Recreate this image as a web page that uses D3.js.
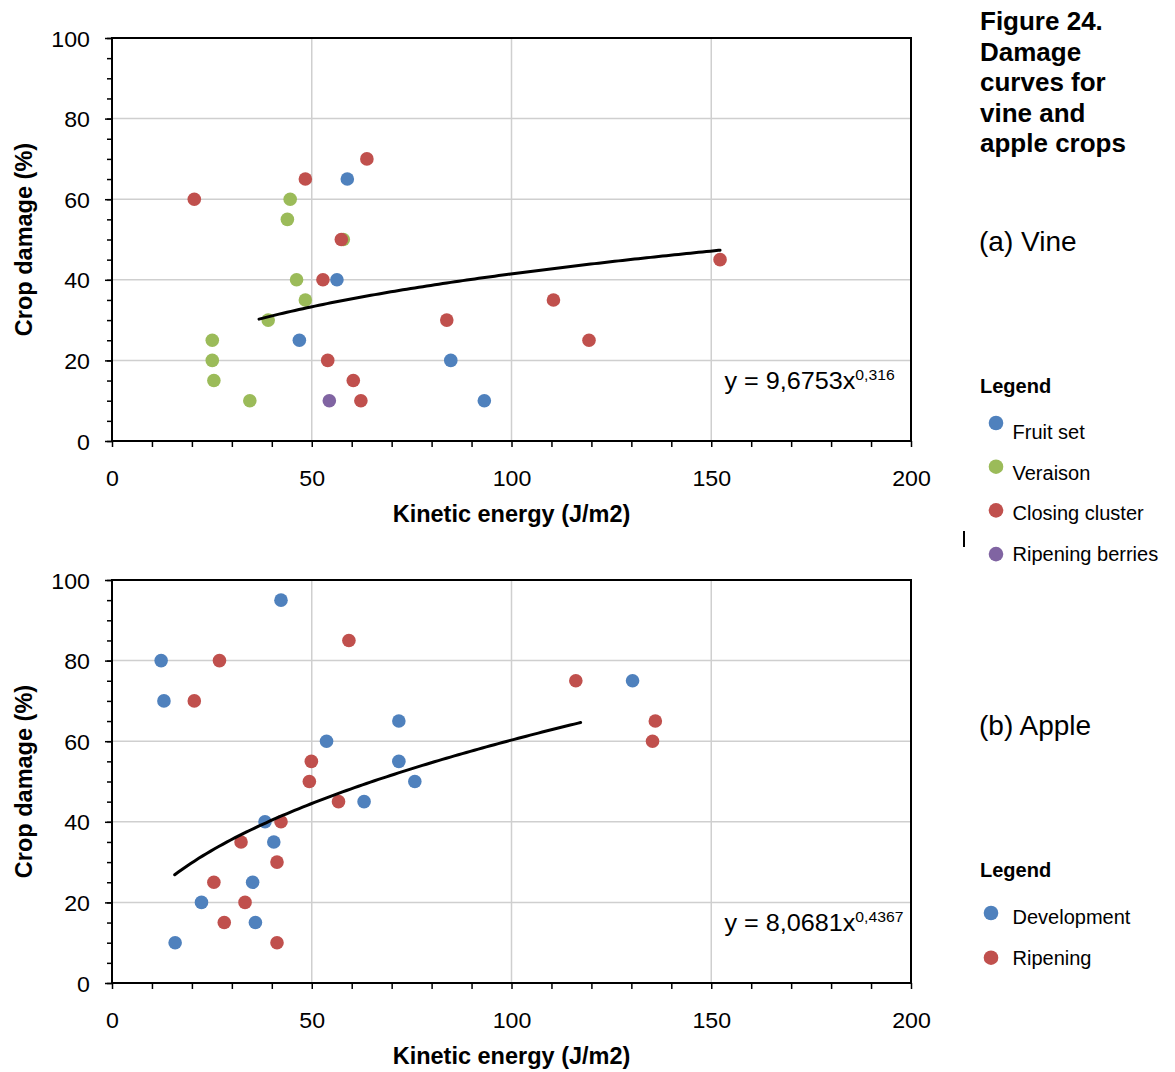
<!DOCTYPE html>
<html>
<head>
<meta charset="utf-8">
<script src="https://cdn.jsdelivr.net/npm/d3@7"></script>
<style>
  body { margin: 0; background: #fff; }
  text { font-family: "Liberation Sans", Arial, sans-serif; fill: #000; }
</style>
</head>
<body>
<div id="chart"></div>
<script>
// Datos: [energia cinetica J/m2, dano %]
const vineFruitSet = [[58.9, 65], [56.3, 40], [46.9, 25], [84.8, 20], [93.2, 10]];
const vineVeraison = [[44.6, 60], [43.9, 55], [57.9, 50], [46.2, 40], [48.4, 35], [39.1, 30],
                      [25.1, 25], [25.1, 20], [25.5, 15], [34.5, 10]];
const vineClosing = [[20.6, 60], [48.4, 65], [63.8, 70], [57.4, 50], [52.8, 40], [83.8, 30],
                     [110.5, 35], [119.4, 25], [152.2, 45], [54.0, 20], [60.4, 15], [62.3, 10]];
const vineRipening = [[54.4, 10]];

const appleDevelopment = [[42.3, 95], [12.3, 80], [13.0, 70], [71.8, 65], [53.7, 60], [71.8, 55],
                          [75.8, 50], [63.1, 45], [38.3, 40], [40.5, 35], [35.2, 25], [22.4, 20],
                          [35.9, 15], [15.8, 10], [130.3, 75]];
const appleRipening = [[59.3, 85], [26.9, 80], [20.6, 70], [116.1, 75], [136.0, 65], [135.3, 60],
                       [49.9, 55], [49.4, 50], [56.7, 45], [42.3, 40], [32.3, 35], [41.3, 30],
                       [25.5, 25], [33.3, 20], [28.1, 15], [41.3, 10]];

// Curvas de ajuste y = a * x^b (ecuaciones del grafico)
const vineFit = { a: 9.6753, b: 0.316, from: 36.8, to: 152.2, label: "9,6753", exp: "0,316" };
const appleFit = { a: 8.0681, b: 0.4367, from: 15.7, to: 117.3, label: "8,0681", exp: "0,4367" };

const xTicks = [0, 50, 100, 150, 200];
const yTicks = [0, 20, 40, 60, 80, 100];
const titleLines = ["Figure 24.", "Damage", "curves for", "vine and", "apple crops"];

const vineLegend = ["Fruit set", "Veraison", "Closing cluster", "Ripening berries"];
const appleLegend = ["Development", "Ripening"];

const colBlue = "#4f81bd", colGreen = "#9bbb59", colRed = "#c0504d", colPurple = "#8064a2";

const svg = d3.select("#chart").append("svg")
    .attr("width", 1175)
    .attr("height", 1072);

function drawPanel(top, series, fit) {
    const left = 112, right = 911, bottom = top + 403;
    const x = d3.scaleLinear().domain([0, 200]).range([left, right]);
    const y = d3.scaleLinear().domain([0, 100]).range([bottom, top]);
    const g = svg.append("g");

    // lineas de la cuadricula
    g.append("g").selectAll("line.h")
        .data(yTicks.slice(1, -1))
        .join("line")
        .attr("x1", left).attr("x2", right)
        .attr("y1", d => y(d)).attr("y2", d => y(d))
        .attr("stroke", "#cfcfcf").attr("stroke-width", 1.5);
    g.append("g").selectAll("line.v")
        .data(xTicks.slice(1, -1))
        .join("line")
        .attr("x1", d => x(d)).attr("x2", d => x(d))
        .attr("y1", top).attr("y2", bottom)
        .attr("stroke", "#cfcfcf").attr("stroke-width", 1.5);

    // ejes: ticks menores y mayores
    const yMinor = g.append("g").attr("transform", `translate(${left},0)`)
        .call(d3.axisLeft(y).tickValues(d3.range(0, 101, 5)).tickSize(5).tickSizeOuter(0).tickFormat(""));
    const yMajor = g.append("g").attr("transform", `translate(${left},0)`)
        .call(d3.axisLeft(y).tickValues(yTicks).tickSize(7).tickSizeOuter(0).tickPadding(0));
    const xAx = g.append("g").attr("transform", `translate(0,${bottom})`)
        .call(d3.axisBottom(x).tickValues(d3.range(0, 201, 10)).tickSize(6).tickSizeOuter(0)
            .tickFormat(d => xTicks.includes(d) ? d : ""));
    [yMinor, yMajor, xAx].forEach(a => {
        a.select(".domain").remove();
        a.selectAll(".tick line").attr("stroke", "#000").attr("stroke-width", 1.5);
    });
    yMajor.selectAll(".tick text")
        .attr("x", null).attr("dy", null)
        .attr("transform", "translate(-22,8) scale(1.03,1)")
        .attr("font-size", "22.5px").attr("font-family", null).attr("fill", "#000");
    xAx.selectAll(".tick text")
        .attr("y", null).attr("dy", null)
        .attr("transform", "translate(0,45) scale(1.03,1)")
        .attr("font-size", "22.5px").attr("font-family", null).attr("fill", "#000");

    // marco del area de trazado
    g.append("rect")
        .attr("x", left).attr("y", top)
        .attr("width", right - left).attr("height", bottom - top)
        .attr("fill", "none").attr("stroke", "#000").attr("stroke-width", 2);

    // puntos
    series.forEach(s => {
        g.append("g").selectAll("circle")
            .data(s.data)
            .join("circle")
            .attr("cx", d => x(d[0]))
            .attr("cy", d => y(d[1]))
            .attr("r", 6.8)
            .attr("fill", s.color);
    });

    // curva de ajuste potencial
    const fitPts = d3.range(fit.from, fit.to, 1).concat([fit.to]).map(v => [v, fit.a * Math.pow(v, fit.b)]);
    g.append("path")
        .datum(fitPts)
        .attr("fill", "none")
        .attr("stroke", "#000")
        .attr("stroke-width", 3)
        .attr("stroke-linecap", "round")
        .attr("d", d3.line().x(d => x(d[0])).y(d => y(d[1])));

    // ecuacion
    const eq = g.append("text")
        .attr("transform", `translate(${x(153.3)},${bottom - 52}) scale(1.05,1)`)
        .attr("font-size", "24px");
    eq.append("tspan").text("y = " + fit.label + "x");
    eq.append("tspan").attr("dy", -9).attr("font-size", "15px").text(fit.exp);

    // titulos de ejes
    g.append("text")
        .attr("x", (left + right) / 2).attr("y", bottom + 81)
        .attr("text-anchor", "middle")
        .attr("font-size", "23.5px")
        .attr("font-weight", "bold")
        .text("Kinetic energy (J/m2)");
    g.append("text")
        .attr("transform", `translate(31.5,${(top + bottom) / 2}) rotate(-90)`)
        .attr("text-anchor", "middle")
        .attr("font-size", "23.5px")
        .attr("font-weight", "bold")
        .text("Crop damage (%)");
}

drawPanel(38, [
    { data: vineFruitSet, color: colBlue },
    { data: vineVeraison, color: colGreen },
    { data: vineClosing, color: colRed },
    { data: vineRipening, color: colPurple }
], vineFit);

drawPanel(580, [
    { data: appleDevelopment, color: colBlue },
    { data: appleRipening, color: colRed }
], appleFit);

// titulo de la figura
svg.append("g").selectAll("text")
    .data(titleLines)
    .join("text")
    .attr("x", 980)
    .attr("y", (d, i) => 30 + i * 30.5)
    .attr("font-size", "26px")
    .attr("font-weight", "bold")
    .text(d => d);

svg.append("text").attr("x", 979).attr("y", 251).attr("font-size", "28px").text("(a) Vine");
svg.append("text").attr("x", 979).attr("y", 735).attr("font-size", "28px").text("(b) Apple");

// leyendas
function drawLegend(titleY, labels, colors, cx, cy0, cyStep, ty0, tyStep) {
    const g = svg.append("g");
    g.append("text").attr("x", 980).attr("y", titleY)
        .attr("font-size", "20px").attr("font-weight", "bold").text("Legend");
    g.selectAll("circle")
        .data(labels)
        .join("circle")
        .attr("cx", cx)
        .attr("cy", (d, i) => cy0 + i * cyStep)
        .attr("r", 7.3)
        .attr("fill", (d, i) => colors[i]);
    g.selectAll("text.item")
        .data(labels)
        .join("text")
        .attr("class", "item")
        .attr("x", 1012.5)
        .attr("y", (d, i) => ty0 + i * tyStep)
        .attr("font-size", "20px")
        .text(d => d);
}

drawLegend(393, vineLegend, [colBlue, colGreen, colRed, colPurple], 996, 423, 43.7, 439, 40.5);
drawLegend(877, appleLegend, [colBlue, colRed], 991, 913, 44.7, 924, 40.5);

// pequena marca vertical suelta en la imagen original
svg.append("line")
    .attr("x1", 964).attr("x2", 964)
    .attr("y1", 531).attr("y2", 547)
    .attr("stroke", "#000").attr("stroke-width", 2);
</script>
</body>
</html>
